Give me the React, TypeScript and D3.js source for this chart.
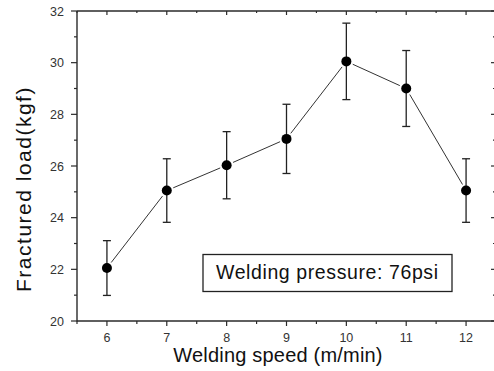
import React from "react";
import * as d3 from "d3";

const speeds = [6, 7, 8, 9, 10, 11, 12];
const loads = [22.05, 25.05, 26.03, 27.05, 30.05, 29.0, 25.05];
const errors = [1.06, 1.23, 1.3, 1.34, 1.48, 1.47, 1.23];
const xMajor = [6, 7, 8, 9, 10, 11, 12];
const xMinor = [5.5, 6.5, 7.5, 8.5, 9.5, 10.5, 11.5, 12.5];
const yMajor = [20, 22, 24, 26, 28, 30, 32];
const yMinor = [21, 23, 25, 27, 29, 31];
const annotation = "Welding pressure: 76psi";
const xTitle = "Welding speed (m/min)";
const yTitle = "Fractured load(kgf)";

export default function App() {
  const W = 494, H = 371;
  const left = 77, right = 496, top = 11, bottom = 321;
  const x = d3.scaleLinear().domain([5.5, 12.5]).range([left, right]);
  const y = d3.scaleLinear().domain([20, 32]).range([bottom, top]);
  const ax = "#2a2a2a";
  const font = "'Liberation Sans', Arial, sans-serif";
  const r = 5;
  const gap = r + 2;

  const segs = [];
  for (let i = 0; i < speeds.length - 1; i++) {
    const x1 = x(speeds[i]), y1 = y(loads[i]);
    const x2 = x(speeds[i + 1]), y2 = y(loads[i + 1]);
    const dx = x2 - x1, dy = y2 - y1;
    const len = Math.hypot(dx, dy);
    const ux = dx / len, uy = dy / len;
    segs.push(
      <line key={i} x1={x1 + ux * gap} y1={y1 + uy * gap} x2={x2 - ux * gap} y2={y2 - uy * gap}
        stroke="#333" strokeWidth={1} />
    );
  }

  return (
    <div style={{ position: "absolute", left: 0, top: 0 }}>
      <svg width={W} height={H} style={{ display: "block", background: "#fff" }}>
        <line x1={left} x2={left} y1={top} y2={bottom + 0.5} stroke={ax} strokeWidth={1.4} />
        <line x1={left} x2={right} y1={bottom} y2={bottom} stroke={ax} strokeWidth={1.4} />
        <line x1={left} x2={right} y1={top} y2={top} stroke={ax} strokeWidth={1.4} />
        <line x1={right} x2={right} y1={top} y2={bottom} stroke={ax} strokeWidth={1.4} />
        {xMajor.map((v) => (
          <g key={"xm" + v}>
            <line x1={x(v)} x2={x(v)} y1={bottom} y2={bottom + 5} stroke={ax} strokeWidth={1.2} />
            <line x1={x(v)} x2={x(v)} y1={top} y2={top + 4} stroke={ax} strokeWidth={1.2} />
            <text x={x(v)} y={342} textAnchor="middle" fontFamily={font} fontSize={12.5} fill="#333">{v}</text>
          </g>
        ))}
        {xMinor.map((v) => (
          <g key={"xn" + v}>
            <line x1={x(v)} x2={x(v)} y1={bottom} y2={bottom + 3} stroke={ax} strokeWidth={1.2} />
            <line x1={x(v)} x2={x(v)} y1={top} y2={top + 2} stroke={ax} strokeWidth={1.2} />
          </g>
        ))}
        {yMajor.map((v) => (
          <g key={"ym" + v}>
            <line x1={left - 6} x2={left} y1={y(v)} y2={y(v)} stroke={ax} strokeWidth={1.2} />
            <line x1={right - 5} x2={right} y1={y(v)} y2={y(v)} stroke={ax} strokeWidth={1.2} />
            <text x={64} y={y(v) + 4.5} textAnchor="end" fontFamily={font} fontSize={12.5} fill="#333">{v}</text>
          </g>
        ))}
        {yMinor.map((v) => (
          <g key={"yn" + v}>
            <line x1={left - 3} x2={left} y1={y(v)} y2={y(v)} stroke={ax} strokeWidth={1.2} />
            <line x1={right - 3} x2={right} y1={y(v)} y2={y(v)} stroke={ax} strokeWidth={1.2} />
          </g>
        ))}
        {segs}
        {speeds.map((s, i) => {
          const cx = x(s);
          const yt = y(loads[i] + errors[i]);
          const yb = y(loads[i] - errors[i]);
          return (
            <g key={"p" + i}>
              <line x1={cx} x2={cx} y1={yt} y2={yb} stroke="#222" strokeWidth={1.3} />
              <line x1={cx - 4} x2={cx + 4} y1={yt} y2={yt} stroke="#222" strokeWidth={1.3} />
              <line x1={cx - 4} x2={cx + 4} y1={yb} y2={yb} stroke="#222" strokeWidth={1.3} />
              <circle cx={cx} cy={y(loads[i])} r={r} fill="#000" />
            </g>
          );
        })}
        <rect x={203} y={254.5} width={249} height={37} fill="#fff" stroke="#222" strokeWidth={1.3} />
        <text x={216} y={279} fontFamily={font} fontSize={19.5} letterSpacing={0.6} fill="#111">{annotation}</text>
        <text x={278} y={362} textAnchor="middle" fontFamily={font} fontSize={20} letterSpacing={0.2} fill="#111">{xTitle}</text>
        <text transform={`translate(31,${189}) rotate(-90)`} textAnchor="middle" fontFamily={font} fontSize={21} letterSpacing={1.5} fill="#111">{yTitle}</text>
      </svg>
    </div>
  );
}
